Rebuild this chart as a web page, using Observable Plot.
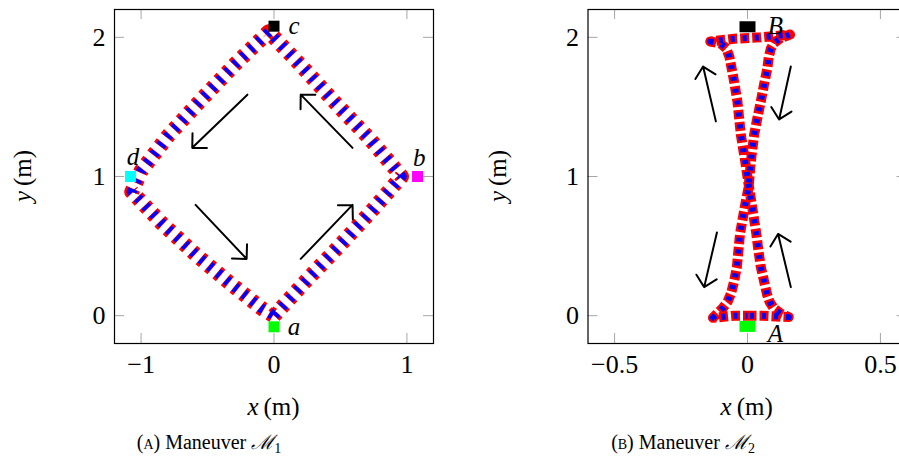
<!DOCTYPE html>
<html><head><meta charset="utf-8">
<script src="https://cdn.jsdelivr.net/npm/d3@7"></script>
<script src="https://cdn.jsdelivr.net/npm/@observablehq/plot@0.6"></script>
<style>
body{margin:0;background:#fff;}
#fig{position:relative;width:899px;height:465px;overflow:hidden;background:#fff;font-family:"Liberation Serif","DejaVu Serif",serif;color:#000;}
#fig svg{position:absolute;top:0;}
.lab{position:absolute;font-size:25px;white-space:nowrap;line-height:1;z-index:2;}
.cap{position:absolute;font-size:20px;white-space:nowrap;line-height:1;z-index:2;}
.cap sub{font-size:0.7em;vertical-align:-0.25em;line-height:0;}
.sc{font-variant:small-caps;}
</style></head><body><div id="fig"></div>
<script>
// ---------- data ----------
// Maneuver M1 (diamond) trajectory
const m1X = [0.00, 0.25, 0.50, 0.75, 0.96, 0.72, 0.47, 0.22, -0.04, -0.29, -0.54, -0.79, -1.00, -1.07, -0.84, -0.59, -0.34, -0.09, 0.00];
const m1Y = [0.00, 0.26, 0.51, 0.77, 1.00, 1.27, 1.52, 1.78, 2.04, 1.81, 1.56, 1.30, 1.04, 0.89, 0.66, 0.44, 0.24, 0.05, 0.00];
// Maneuver M2 (figure eight) trajectory
const m2X = [0.00, 0.05, 0.155, 0.125, 0.10, 0.083, 0.074, 0.062, 0.05, 0.041, 0.033, 0.02, 0.006, -0.008, -0.025, -0.038, -0.052, -0.06, -0.068, -0.08, -0.10, -0.14,
             -0.05, 0.05, 0.16, 0.125, 0.10, 0.088, 0.08, 0.075, 0.062, 0.05, 0.035, 0.025, 0.012, 0.004, -0.006, -0.028, -0.04, -0.05, -0.062, -0.075, -0.095, -0.13, -0.05, 0.00];
const m2Y = [0.00, 0.00, -0.01, 0.015, 0.05, 0.10, 0.15, 0.25, 0.35, 0.47, 0.59, 0.75, 0.92, 1.10, 1.30, 1.54, 1.70, 1.78, 1.86, 1.92, 1.955, 1.97,
             1.99, 2.00, 2.02, 1.995, 1.96, 1.92, 1.86, 1.78, 1.66, 1.54, 1.40, 1.30, 1.10, 0.92, 0.825, 0.59, 0.35, 0.25, 0.16, 0.10, 0.05, -0.015, 0.00, 0.00];
// waypoints
const m1Names = ["a", "b", "c", "d"];
const m1PtX = [0, 1.08, 0, -1.08];
const m1PtY = [-0.08, 1.0, 2.08, 1.0];
const m1LabX = [0.15, 1.093, 0.15, -1.06];
const m1LabY = [-0.08, 1.135, 2.08, 1.14];
const m2Names = ["A", "B"];
const m2PtX = [0, 0];
const m2PtY = [-0.077, 2.076];
const m2LabX = [0.105, 0.105];
const m2LabY = [-0.13, 2.085];
// direction arrows
const m1ArrX1 = [-0.20, 0.591, -0.59, 0.201];
const m1ArrY1 = [1.588, 1.206, 0.796, 0.408];
const m1ArrX2 = [-0.615, 0.201, -0.206, 0.591];
const m1ArrY2 = [1.206, 1.588, 0.408, 0.796];
const m2ArrX1 = [-0.119, 0.163, -0.115, 0.163];
const m2ArrY1 = [1.396, 1.79, 0.598, 0.205];
const m2ArrX2 = [-0.167, 0.119, -0.163, 0.115];
const m2ArrY2 = [1.79, 1.41, 0.205, 0.587];
// axes
const m1XTicks = [-1, 0, 1];
const m2XTicks = [-0.5, 0, 0.5];
const yTicks = [0, 1, 2];
const m1XDomain = [-1.2, 1.2];
const m2XDomain = [-0.6, 0.6];
const yDomain = [-0.2, 2.2];

// ---------- helpers ----------
const pts = (X, Y) => X.map((x, i) => ({x, y: Y[i]}));
const arrows = (X1, Y1, X2, Y2) => X1.map((x1, i) => ({x1, y1: Y1[i], x2: X2[i], y2: Y2[i]}));
const labels = (N, X, Y) => N.map((n, i) => ({n, x: X[i], y: Y[i]}));
const fmt = d => (d < 0 ? "\u2212" : "") + Math.abs(d);
const rectSymbol = (w, h) => ({draw(ctx) { ctx.rect(-w / 2, -h / 2, w, h); }});
const markerColors = {a: "#00ff00", b: "#ff00ff", c: "#000000", d: "#00ffff", A: "#00ff00", B: "#000000"};
const TICK = 10, TICKC = "#a6a6a6", FONT = "'Liberation Serif', 'DejaVu Serif', serif";

function panel({width, marginLeft, marginRight, xDomain, xTicks, path, dashes, arr, pts: P, labs, sym, curve}) {
  const H = 465, mt = 9, mb = 122;
  const fw = width - marginLeft - marginRight, fh = H - mt - mb;
  return Plot.plot({
    width, height: H, marginLeft, marginRight, marginTop: mt, marginBottom: mb,
    style: {fontFamily: FONT, fontSize: "26px", background: "none", overflow: "visible", color: "#000"},
    x: {domain: xDomain},
    y: {domain: yDomain},
    marks: [
      Plot.ruleX(xTicks, {insetTop: fh - TICK, stroke: TICKC}),
      Plot.ruleX(xTicks, {insetBottom: fh - TICK, stroke: TICKC}),
      Plot.ruleY(yTicks, {insetRight: fw - TICK, stroke: TICKC}),
      Plot.ruleY(yTicks, {insetLeft: fw - TICK, stroke: TICKC}),
      Plot.frame({stroke: "#000", strokeWidth: 1.2}),
      Plot.axisX({ticks: xTicks, tickSize: 0, tickPadding: 11, tickFormat: fmt, label: null, fontSize: 26, fontFamily: FONT}),
      Plot.axisY({ticks: yTicks, tickSize: 0, tickPadding: 9, tickFormat: fmt, label: null, fontSize: 26, fontFamily: FONT}),
      Plot.line(path, {x: "x", y: "y", curve, stroke: "#ff0000", strokeWidth: dashes.rw, strokeDasharray: dashes.rd, strokeLinecap: "butt", strokeLinejoin: "round"}),
      Plot.line(path, {x: "x", y: "y", curve, stroke: "#0000ff", strokeWidth: dashes.bw, strokeDasharray: dashes.bd, strokeDashoffset: dashes.bo, strokeLinecap: "butt", strokeLinejoin: "round"}),
      Plot.arrow(arr, {x1: "x1", y1: "y1", x2: "x2", y2: "y2", stroke: "#000", strokeWidth: 2, headLength: 11, headAngle: 90}),
      Plot.dot(P, {x: "x", y: "y", symbol: sym, r: 6, fill: d => markerColors[d.n], stroke: "none"}),
      Plot.text(labs, {x: "x", y: "y", text: "n", fontStyle: "italic", fontSize: 25, fontFamily: FONT, textAnchor: "middle", lineAnchor: "middle", fill: "#000"})
    ]
  });
}

const fig = document.getElementById("fig");

const left = panel({
  width: 450, marginLeft: 114, marginRight: 17, xDomain: m1XDomain, xTicks: m1XTicks,
  path: pts(m1X, m1Y), curve: "linear",
  dashes: {rw: 15, rd: "4.5,6.5", bw: 10, bd: "3.5,7.5", bo: -0.5},
  arr: arrows(m1ArrX1, m1ArrY1, m1ArrX2, m1ArrY2),
  pts: labels(m1Names, m1PtX, m1PtY), labs: labels(m1Names, m1LabX, m1LabY),
  sym: rectSymbol(11, 11)
});
left.style.left = "0px";
fig.appendChild(left);

const right = panel({
  width: 470, marginLeft: 137.5, marginRight: 13.5, xDomain: m2XDomain, xTicks: m2XTicks,
  path: pts(m2X, m2Y), curve: "linear",
  dashes: {rw: 10, rd: "9,3", bw: 6, bd: "4,8", bo: -2.5},
  arr: arrows(m2ArrX1, m2ArrY1, m2ArrX2, m2ArrY2),
  pts: labels(m2Names, m2PtX, m2PtY), labs: labels(m2Names, m2LabX, m2LabY),
  sym: rectSymbol(16, 11)
});
right.style.left = "450px";
fig.appendChild(right);

// axis titles and captions
const html = [
  `<div class="lab" style="left:273.5px;top:406px;transform:translate(-50%,-50%)"><i>x</i>&thinsp;(m)</div>`,
  `<div class="lab" style="left:746.7px;top:406px;transform:translate(-50%,-50%)"><i>x</i>&thinsp;(m)</div>`,
  `<div class="lab" style="left:22px;top:176px;transform:translate(-50%,-50%) rotate(-90deg)"><i>y</i>&thinsp;(m)</div>`,
  `<div class="lab" style="left:497px;top:176px;transform:translate(-50%,-50%) rotate(-90deg)"><i>y</i>&thinsp;(m)</div>`,
  `<div class="cap" style="left:209px;top:442px;transform:translate(-50%,-50%)"><span class="sc">(a)</span> Maneuver <i>ℳ</i><sub>1</sub></div>`,
  `<div class="cap" style="left:683px;top:442px;transform:translate(-50%,-50%)"><span class="sc">(b)</span> Maneuver <i>ℳ</i><sub>2</sub></div>`
];
fig.insertAdjacentHTML("beforeend", html.join(""));
</script></body></html>
